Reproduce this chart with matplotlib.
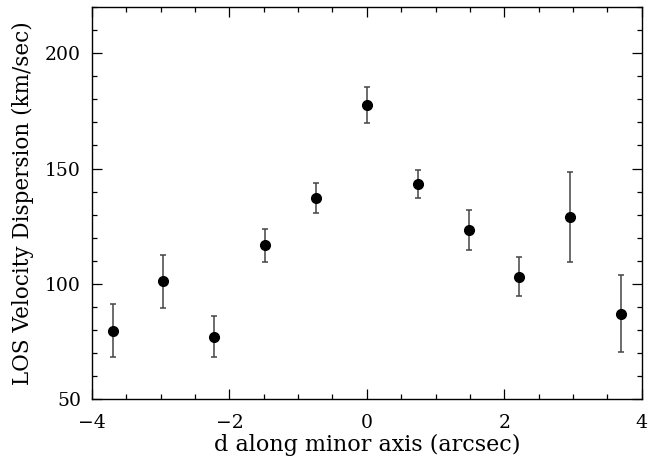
import matplotlib
matplotlib.use("Agg")
import matplotlib.pyplot as plt
from matplotlib.ticker import MultipleLocator

d = [-3.70, -2.96, -2.22, -1.48, -0.74, 0.0, 0.74, 1.48, 2.22, 2.96, 3.70]
sigma = [79.8, 101.1, 77.2, 116.7, 137.3, 177.6, 143.3, 123.5, 103.2, 129.1, 87.1]
err = [11.4, 11.5, 9.0, 7.0, 6.5, 7.8, 5.9, 8.6, 8.4, 19.4, 16.8]

plt.rcParams['font.family'] = ['DejaVu Serif']
fig = plt.figure(figsize=(6.59, 4.62), dpi=100)
ax = fig.add_axes([0.1396, 0.1357, 0.8341, 0.8491])
ax.errorbar(d, sigma, yerr=err, fmt='o', color='black', ecolor='#444444',
            markersize=7, elinewidth=1.1, capsize=2.4, capthick=1.1)
ax.set_xlim(-4, 4)
ax.set_ylim(50, 220)
ax.xaxis.set_major_locator(MultipleLocator(2))
ax.xaxis.set_minor_locator(MultipleLocator(0.5))
ax.yaxis.set_major_locator(MultipleLocator(50))
ax.yaxis.set_minor_locator(MultipleLocator(10))
ax.tick_params(which='both', direction='in', top=True, right=True, labelsize=13.5, width=0.9)
ax.tick_params(which='major', length=7.5)
ax.tick_params(axis='x', which='major', pad=10.5)
ax.tick_params(axis='y', which='major', pad=8)
ax.tick_params(which='minor', length=3.8)
for s in ax.spines.values():
    s.set_linewidth(1.0)
ax.set_xlabel('d along minor axis (arcsec)', fontsize=16, labelpad=1.5)
ax.set_ylabel('LOS Velocity Dispersion (km/sec)', fontsize=15.5, labelpad=8)
fig.savefig('out.png', dpi=100)
